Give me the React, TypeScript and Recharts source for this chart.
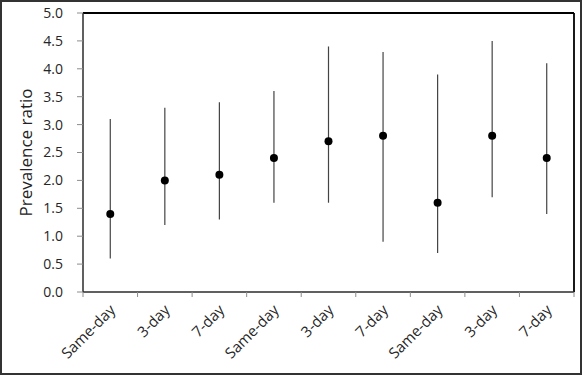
import { ComposedChart, Line, ErrorBar, XAxis, YAxis, ReferenceLine } from 'recharts';

const CATEGORIES = ['Same-day', '3-day', '7-day', 'Same-day', '3-day', '7-day', 'Same-day', '3-day', '7-day'];
const RATIO = [1.4, 2.0, 2.1, 2.4, 2.7, 2.8, 1.6, 2.8, 2.4];
const CI_LOW = [0.6, 1.2, 1.3, 1.6, 1.6, 0.9, 0.7, 1.7, 1.4];
const CI_HIGH = [3.1, 3.3, 3.4, 3.6, 4.4, 4.3, 3.9, 4.5, 4.1];
const Y_TICKS = [0, 0.5, 1.0, 1.5, 2.0, 2.5, 3.0, 3.5, 4.0, 4.5, 5.0];

const FONT = "'Open Sans', sans-serif";
const AXIS = '#2b2b2b';
const TICK = '#8c8c8c';

// x positions: category i sits in the middle of slot [i, i+1]
const data = CATEGORIES.map((label, i) => ({
  pos: i + 0.5,
  label,
  ratio: RATIO[i],
  ci: [RATIO[i] - CI_LOW[i], CI_HIGH[i] - RATIO[i]],
}));

// boundaries get a tick mark, slot centres get the rotated label
const X_TICKS = Array.from({ length: CATEGORIES.length * 2 + 1 }, (_, k) => k / 2);

function XTick(props: any) {
  const { x, y, payload } = props;
  const v = payload.value as number;
  if (Number.isInteger(v)) {
    return <line x1={x} x2={x} y1={y} y2={y + 5} stroke={TICK} strokeWidth={1} />;
  }
  const ax = x + 6;
  const ay = y + 19;
  return (
    <text
      x={ax}
      y={ay}
      transform={`rotate(-45, ${ax}, ${ay})`}
      textAnchor="end"
      fill="#262626"
      fontSize={15}
      fontFamily={FONT}
    >
      {CATEGORIES[Math.floor(v)]}
    </text>
  );
}

function YLabel(props: any) {
  const { viewBox } = props;
  const cx = viewBox.x + 25;
  const cy = viewBox.y + viewBox.height / 2;
  return (
    <text
      x={cx}
      y={cy}
      transform={`rotate(-90, ${cx}, ${cy})`}
      textAnchor="middle"
      dominantBaseline="central"
      fill="#222"
      fontSize={17}
      fontFamily={FONT}
    >
      Prevalence ratio
    </text>
  );
}

export default function App() {
  return (
    <div style={{ position: 'absolute', left: 0, top: 0, width: 582, height: 375, background: '#fff', fontFamily: FONT }}>
      <ComposedChart width={582} height={375} data={data} margin={{ top: 13, right: 8, left: 0, bottom: 0 }}>
        <XAxis
          dataKey="pos"
          type="number"
          domain={[0, CATEGORIES.length]}
          ticks={X_TICKS}
          interval={0}
          tick={<XTick />}
          tickLine={false}
          tickSize={0}
          tickMargin={0}
          height={83}
          axisLine={{ stroke: AXIS, strokeWidth: 1.5 }}
        />
        <YAxis
          type="number"
          domain={[0, 5]}
          ticks={Y_TICKS}
          interval={0}
          width={83}
          tickFormatter={(v: number) => v.toFixed(1)}
          tick={{ fill: '#262626', fontSize: 14, fontFamily: FONT }}
          tickSize={6}
          tickMargin={14}
          tickLine={{ stroke: TICK }}
          axisLine={{ stroke: AXIS, strokeWidth: 1.5 }}
          label={<YLabel />}
        />
        {/* closing frame on top and right of the plot area */}
        <ReferenceLine y={5} stroke="#000" strokeWidth={1.8} />
        <ReferenceLine x={CATEGORIES.length} stroke="#000" strokeWidth={1.8} />
        <Line
          dataKey="ratio"
          stroke="none"
          dot={{ r: 4, fill: '#000', stroke: 'none' }}
          activeDot={false}
          isAnimationActive={false}
        >
          <ErrorBar dataKey="ci" width={0} stroke="#444" strokeWidth={1.2} direction="y" />
        </Line>
      </ComposedChart>
      <div
        style={{
          position: 'absolute',
          inset: 0,
          border: '2px solid #333',
          boxSizing: 'border-box',
          pointerEvents: 'none',
        }}
      />
    </div>
  );
}
